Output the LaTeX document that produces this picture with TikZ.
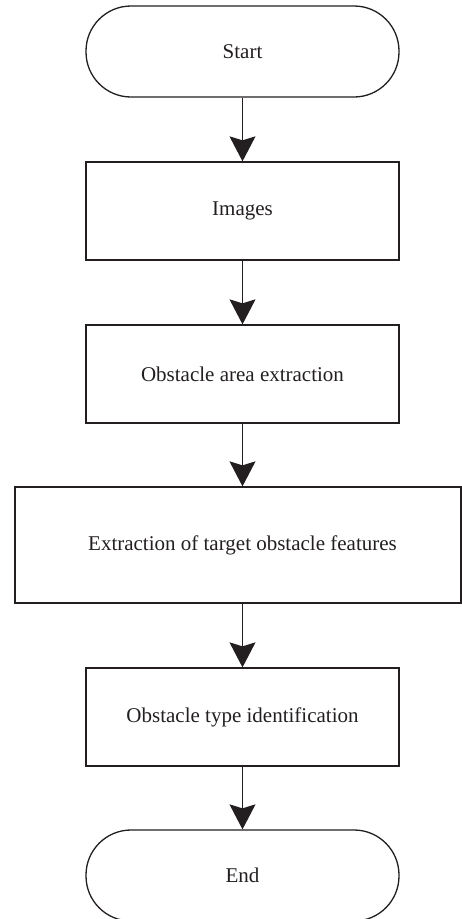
\documentclass[tikz,border=0pt]{standalone}
\usepackage{fontspec}
\setmainfont{Liberation Serif}
\usetikzlibrary{arrows.meta}
\definecolor{ink}{HTML}{231F20}
\begin{document}
\begin{tikzpicture}[x=1pt,y=-1pt,
  every node/.style={font=\fontsize{21}{25}\selectfont, text=ink},
  box/.style={draw=ink, line width=1.3pt, minimum width=313pt, minimum height=98pt, inner sep=0pt},
  term/.style={box, rounded corners=45pt, minimum height=91pt},
  flow/.style={draw=ink, line width=1.1pt, -{Stealth[length=25pt, width=26pt, inset=4pt]}}]
\useasboundingbox (0,0) rectangle (462,919);
% flowchart blocks
\node[term] (start) at (242.5,51.5) {Start};
\node[box] (img) at (242.5,211) {Images};
\node[box] (area) at (242.5,374) {Obstacle area extraction};
\node[box, minimum width=446pt, minimum height=116pt] (feat) at (238,545) {\hspace*{9pt}Extraction of target obstacle features};
\node[box] (type) at (242.5,717) {Obstacle type identification};
\node[term] (end) at (242.5,875.5) {End};
% connectors
\draw[flow] (start) -- (img);
\draw[flow] (img) -- (area);
\draw[flow] (area.south) -- (feat.north -| area.south);
\draw[flow] (feat.south -| type.north) -- (type.north);
\draw[flow] (type) -- (end);
\end{tikzpicture}
\end{document}
